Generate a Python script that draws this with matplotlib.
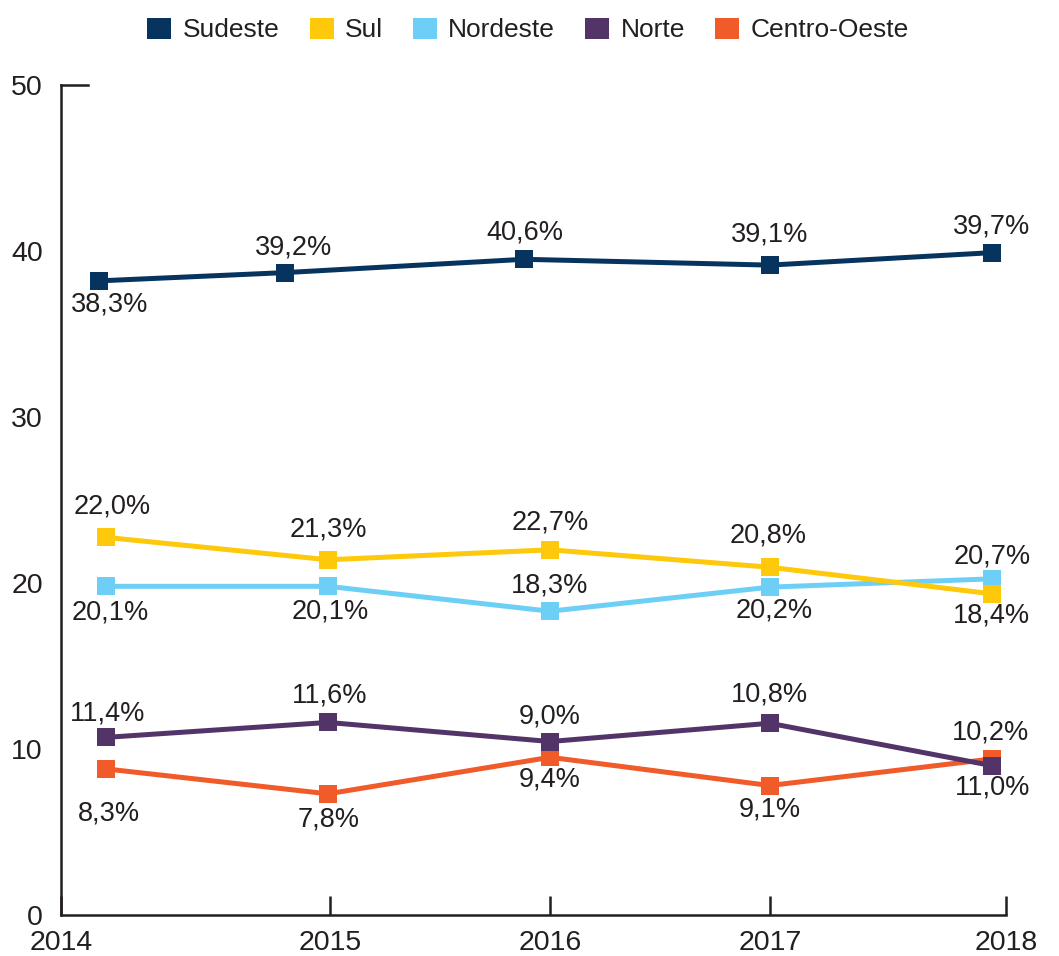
import matplotlib.pyplot as plt
from matplotlib.patches import Patch

plt.rcParams['font.family'] = ['Liberation Sans', 'DejaVu Sans']

# Data
years = ['2014', '2015', '2016', '2017', '2018']
year_tick_pos = [2014.0, 2015.14, 2016.07, 2017.0, 2018.0]

x_pos = [2014.19, 2015.13, 2016.07, 2017.0, 2017.94]
x_pos_sudeste = [2014.16, 2014.95, 2015.96, 2017.0, 2017.94]

sudeste = [38.2, 38.7, 39.5, 39.15, 39.9]
sudeste_lbl = ['38,3%', '39,2%', '40,6%', '39,1%', '39,7%']

sul = [22.75, 21.4, 22.0, 20.95, 19.35]
sul_lbl = ['22,0%', '21,3%', '22,7%', '20,8%', '18,4%']

nordeste = [19.8, 19.8, 18.3, 19.75, 20.25]
nordeste_lbl = ['20,1%', '20,1%', '18,3%', '20,2%', '20,7%']

norte = [10.7, 11.6, 10.45, 11.55, 9.0]
norte_lbl = ['11,4%', '11,6%', '9,0%', '10,8%', '11,0%']

centro_oeste = [8.8, 7.3, 9.5, 7.8, 9.4]
centro_oeste_lbl = ['8,3%', '7,8%', '9,4%', '9,1%', '10,2%']

names = ['Sudeste', 'Sul', 'Nordeste', 'Norte', 'Centro-Oeste']
colors = ['#06345f', '#fec80b', '#6dcff6', '#523469', '#f15a29']
text_color = '#231f20'

# label offsets in pixels (dx, dy), dy positive = up
series = [
    (x_pos_sudeste, sudeste, sudeste_lbl, colors[0], 3,
     [(11, -24), (8, 25), (1, 27), (0, 31), (0, 26)]),
    (x_pos, nordeste, nordeste_lbl, colors[2], 4,
     [(4, -26), (2, -25), (0, 26), (4, -23), (0, 22)]),
    (x_pos, sul, sul_lbl, colors[1], 5,
     [(6, 31), (0, 30), (0, 27), (-2, 32), (0, -22)]),
    (x_pos, centro_oeste, centro_oeste_lbl, colors[4], 6,
     [(3, -45), (1, -26), (0, -22), (0, -24), (-1, 26)]),
    (x_pos, norte, norte_lbl, colors[3], 7,
     [(2, 24), (2, 27), (0, 25), (0, 29), (1, -22)]),
]

fig = plt.figure(figsize=(10.59, 9.56), dpi=100)
ax = fig.add_axes([61 / 1059, 1 - 915 / 956, 945 / 1059, 830 / 956])

for xs, ys, lbls, c, z, offs in series:
    ax.plot(xs, ys, color=c, lw=3.6, marker='s', markersize=12.5,
            markeredgewidth=0, zorder=z, clip_on=False)
    for xv, yv, t, (dx, dy) in zip(xs, ys, lbls, offs):
        ax.annotate(t, (xv, yv), xytext=(dx, dy), textcoords='offset pixels',
                    ha='center', va='center', fontsize=19.5, color=text_color,
                    zorder=10)

ax.set_xlim(2014, 2018)
ax.set_ylim(0, 50)

for s in ['top', 'right']:
    ax.spines[s].set_visible(False)
for s in ['left', 'bottom']:
    ax.spines[s].set_color(text_color)
    ax.spines[s].set_linewidth(1.8)

ax.set_xticks(year_tick_pos, labels=years)
ax.tick_params(axis='x', direction='in', length=14, width=1.8,
               color=text_color, pad=11, labelsize=20.5, labelcolor=text_color)
ax.set_yticks([0, 10, 20, 30, 40, 50])
ax.tick_params(axis='y', length=0, pad=13, labelsize=20.5, labelcolor=text_color)
ax.axhline(50, xmin=0, xmax=27 / 945, color=text_color, lw=1.8, clip_on=False)

handles = [Patch(facecolor=c, edgecolor='none') for c in colors]
fig.legend(handles, names, loc='center', bbox_to_anchor=(528 / 1059, 1 - 30 / 956),
           ncol=5, frameon=False, fontsize=19, handlelength=0.91,
           handleheight=0.87, handletextpad=0.42, columnspacing=1.15,
           labelcolor=text_color)

plt.savefig('out.png', dpi=100)
